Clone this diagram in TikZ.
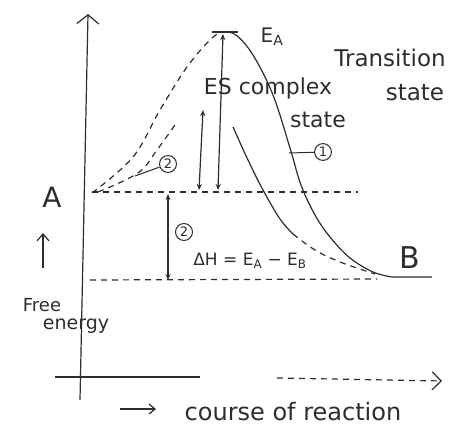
\documentclass[tikz,border=0pt]{standalone}
\usepackage{fontspec}
\setmainfont{DejaVu Sans}
\usetikzlibrary{arrows.meta}
\definecolor{ink}{RGB}{45,45,45}
\newcommand\fsz[1]{\fontsize{#1}{#1}\selectfont}
\begin{document}
\begin{tikzpicture}[x=1pt,y=-1pt,line width=1.2pt,draw=ink,text=ink,
  dashline/.style={dashed,dash pattern=on 6pt off 5pt},
  dbl/.style={{Stealth[length=6pt,width=5pt]}-{Stealth[length=6pt,width=5pt]}},
  lbl/.style={inner sep=0pt,font=\fsz{#1}},
  num/.style={circle,draw,line width=1pt,inner sep=1.5pt,font=\fsz{13}}]
\useasboundingbox (0,0) rectangle (456,428);
% axes
\coordinate (yb) at (80,400);
\coordinate (yt) at (88,14);
\draw[-{Straight Barb[length=9pt,width=22pt]}] (yb) -- (yt);
\coordinate (x0) at (55,377);
\coordinate (x1) at (200,377);
\coordinate (x2) at (277,378);
\coordinate (x3) at (442,381);
\draw (x0) -- (x1);
\draw[dashline,-{Straight Barb[length=9pt,width=18pt]}] (x2) -- (x3);
% levels
\coordinate (a0) at (92,192);
\coordinate (a1) at (358,192);
\coordinate (b0) at (90,280);
\coordinate (b1) at (377,279);
\draw[dashline] (a0) -- (a1);
\draw[dashline] (b0) -- (b1);
% peak tick
\coordinate (t0) at (212,32);
\coordinate (t1) at (238,32);
\draw (t0) -- (t1);
% uncatalysed rising (dashed)
\draw[dashline] plot[smooth,tension=0.6] coordinates {(92,193) (133,157) (160,110) (187,67) (212,38) (224,32)};
% uncatalysed descending (solid)
\draw plot[smooth,tension=0.6] coordinates {(224,32) (236,35) (253,55) (273,95) (290,148) (301,185) (315,215) (330,237) (350,258) (373,272) (392,277)} -- (432,277);
% catalysed rising (dashed)
\draw[dashline] plot[smooth,tension=0.6] coordinates {(98,192) (138,173) (157,150) (177,122)};
% catalysed descending
\draw plot[smooth,tension=0.6] coordinates {(233,127) (248,160) (263,190) (280,219) (293,234)};
\draw[dashline] plot[smooth,tension=0.6] coordinates {(293,234) (315,250) (340,262) (375,274)};
% energy arrows
\coordinate (es0) at (203,110);
\coordinate (es1) at (199,190);
\draw[dbl] (es0) -- (es1);
\coordinate (ea0) at (223,34);
\coordinate (ea1) at (218,190);
\draw[dbl] (ea0) -- (ea1);
\coordinate (dh0) at (168,194);
\coordinate (dh1) at (168,280);
\draw[dbl] (dh0) -- (dh1);
% labels
\node[lbl=20] (EA) at (272,37) {E\textsubscript{A}};
\node[lbl=23] (tr) at (390,58) {Transition};
\node[lbl=23] (trs) at (415,93) {state};
\node[lbl=22] (es) at (268,88) {ES complex};
\node[lbl=22] (ess) at (318,120) {state};
\node[num] (c1) at (323,152) {1};
\coordinate (p1) at (289,153);
\draw[line width=1pt] (p1) -- (c1);
\node[num] (c2) at (168,164) {2};
\coordinate (p2) at (135,176);
\draw[line width=1pt] (p2) -- (c2);
\node[num] (c3) at (184,232) {2};
\node[lbl=17] (dh) at (250,261) {ΔH = E\textsubscript{A} − E\textsubscript{B}};
\node[lbl=28] (A) at (52,197) {A};
\node[lbl=30] (B) at (410,258) {B};
\coordinate (u0) at (43,268);
\coordinate (u1) at (43,233);
\draw[-{Straight Barb[length=7pt,width=12pt]}] (u0) -- (u1);
\node[lbl=18] (fr) at (42,305) {Free};
\node[lbl=19] (en) at (76,326) {energy};
\coordinate (r0) at (120,409);
\coordinate (r1) at (156,409);
\draw[-{Straight Barb[length=6pt,width=10pt]}] (r0) -- (r1);
\node[lbl=24] (cr) at (293,412) {course of reaction};
\end{tikzpicture}
\end{document}
